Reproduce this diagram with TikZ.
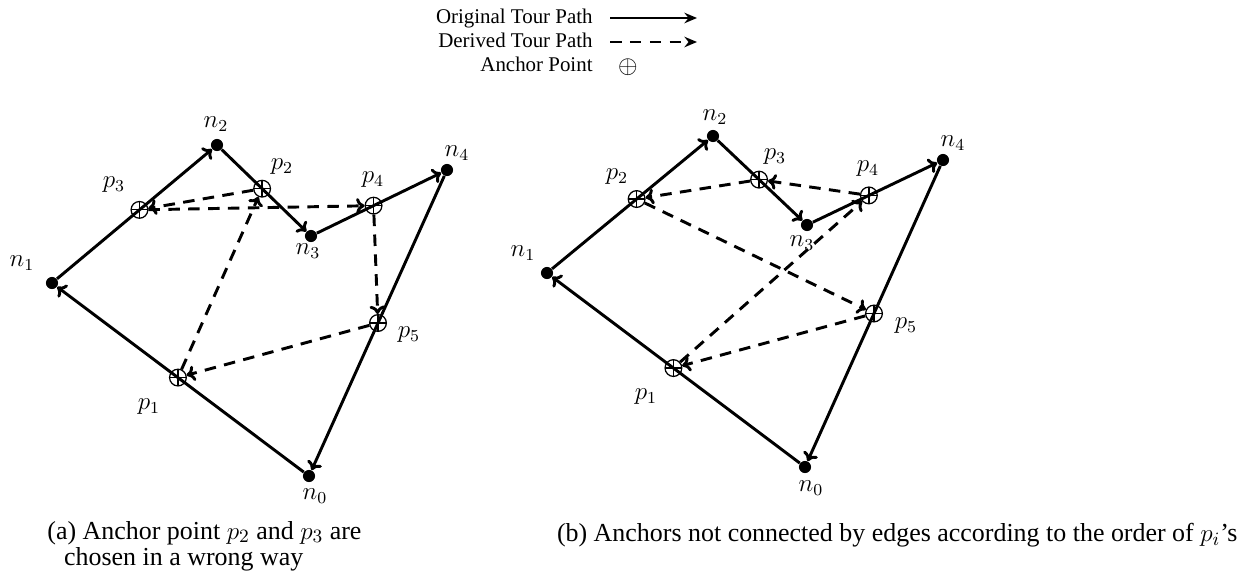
\documentclass[tikz,border=0pt]{standalone}
\usepackage[no-math]{fontspec}
\setmainfont{Liberation Serif}
\usetikzlibrary{arrows.meta,calc}

\begin{document}
\begin{tikzpicture}[x=0.478pt,y=-0.478pt,
  ndot/.style={circle,fill=black,inner sep=0pt,minimum size=5.8pt},
  apt/.style={circle,draw=black,line width=.6pt,inner sep=0pt,minimum size=8pt,
    path picture={\draw[line width=.6pt] (path picture bounding box.north)--(path picture bounding box.south)
      (path picture bounding box.west)--(path picture bounding box.east);}},
  tour/.style={-{To[length=4pt,width=7.5pt]},line width=1.4pt},
  derived/.style={-{To[length=4pt,width=7.5pt]},line width=1.4pt,dash pattern=on 5.5pt off 4pt},
  mlbl/.style={font=\large},
  capt/.style={inner sep=0pt,font=\fontsize{12.4pt}{12.6pt}\selectfont}]
\useasboundingbox (0,0) rectangle (1244,576);

\node[anchor=mid east,inner sep=0pt] (lgo) at (593,19) {Original Tour Path};
\node[anchor=mid east,inner sep=0pt] (lgd) at (593,43) {Derived Tour Path};
\node[anchor=mid east,inner sep=0pt] (lga) at (593,67) {Anchor Point};
\coordinate (lgo1) at (610,18); \coordinate (lgo2) at (697,18);
\coordinate (lgd1) at (610,42); \coordinate (lgd2) at (697,42);
\draw[line width=1.4pt,-{Stealth[length=6pt,width=5pt]}] (lgo1)--(lgo2);
\draw[line width=1.4pt,dash pattern=on 5.5pt off 4pt,-{Stealth[length=6pt,width=5pt]}] (lgd1)--(lgd2);
\node[font=\large] (lgs) at (628,67) {$\oplus$};

\node[ndot] (a0) at (309,476) {};
\node[ndot] (a1) at (52,283) {};
\node[ndot] (a2) at (217,145) {};
\node[ndot] (a3) at (311,236) {};
\node[ndot] (a4) at (447,170) {};
\draw[tour] (a0)--(a1);
\draw[tour] (a1)--(a2);
\draw[tour] (a2)--(a3);
\draw[tour] (a3)--(a4);
\draw[tour] (a4)--(a0);
\node[apt] (ap1) at ($(a0)!.51!(a1)$) {};
\node[apt] (ap2) at ($(a2)!.48!(a3)$) {};
\node[apt] (ap3) at ($(a1)!.53!(a2)$) {};
\node[apt] (ap4) at ($(a3)!.46!(a4)$) {};
\node[apt] (ap5) at ($(a4)!.5!(a0)$) {};
\draw[derived] (ap1)--(ap2);
\draw[derived] (ap2)--(ap3);
\draw[derived] (ap3)--(ap4);
\draw[derived] (ap4)--(ap5);
\draw[derived] (ap5)--(ap1);
\node[mlbl] (la0) at (315,496) {$n_0$};
\node[mlbl] (la1) at (22,263) {$n_1$};
\node[mlbl] (la2) at (216,124) {$n_2$};
\node[mlbl] (la3) at (308,251) {$n_3$};
\node[mlbl] (la4) at (457,153) {$n_4$};
\node[mlbl] (lap1) at (149,407) {$p_1$};
\node[mlbl] (lap2) at (282,167) {$p_2$};
\node[mlbl] (lap3) at (114,185) {$p_3$};
\node[mlbl] (lap4) at (373,180) {$p_4$};
\node[mlbl] (lap5) at (409,335) {$p_5$};

\node[ndot] (b0) at (805,467) {};
\node[ndot] (b1) at (547,273) {};
\node[ndot] (b2) at (713,136) {};
\node[ndot] (b3) at (807,225) {};
\node[ndot] (b4) at (943,160) {};
\draw[tour] (b0)--(b1);
\draw[tour] (b1)--(b2);
\draw[tour] (b2)--(b3);
\draw[tour] (b3)--(b4);
\draw[tour] (b4)--(b0);
\node[apt] (bp1) at ($(b0)!.51!(b1)$) {};
\node[apt] (bp2) at ($(b1)!.54!(b2)$) {};
\node[apt] (bp3) at ($(b2)!.49!(b3)$) {};
\node[apt] (bp4) at ($(b3)!.455!(b4)$) {};
\node[apt] (bp5) at ($(b4)!.5!(b0)$) {};
\draw[derived] (bp4)--(bp3);
\draw[derived] (bp3)--(bp2);
\draw[derived] (bp2)--(bp5);
\draw[derived] (bp5)--(bp1);
\draw[derived] (bp1)--(bp4);
\node[mlbl] (lb0) at (811,488) {$n_0$};
\node[mlbl] (lb1) at (523,253) {$n_1$};
\node[mlbl] (lb2) at (715,117) {$n_2$};
\node[mlbl] (lb3) at (802,243) {$n_3$};
\node[mlbl] (lb4) at (953,143) {$n_4$};
\node[mlbl] (lbp1) at (646,397) {$p_1$};
\node[mlbl] (lbp2) at (617,177) {$p_2$};
\node[mlbl] (lbp3) at (775,157) {$p_3$};
\node[mlbl] (lbp4) at (868,169) {$p_4$};
\node[mlbl] (lbp5) at (906,326) {$p_5$};

\node[capt,anchor=west,align=left] (capa) at (47,546)
  {(a) Anchor point $p_2$ and $p_3$ are\\\hspace*{8pt}chosen in a wrong way};
\node[capt,anchor=east] (capb) at (1238,535)
  {(b) Anchors not connected by edges according to the order of $p_i$'s};
\end{tikzpicture}
\end{document}
